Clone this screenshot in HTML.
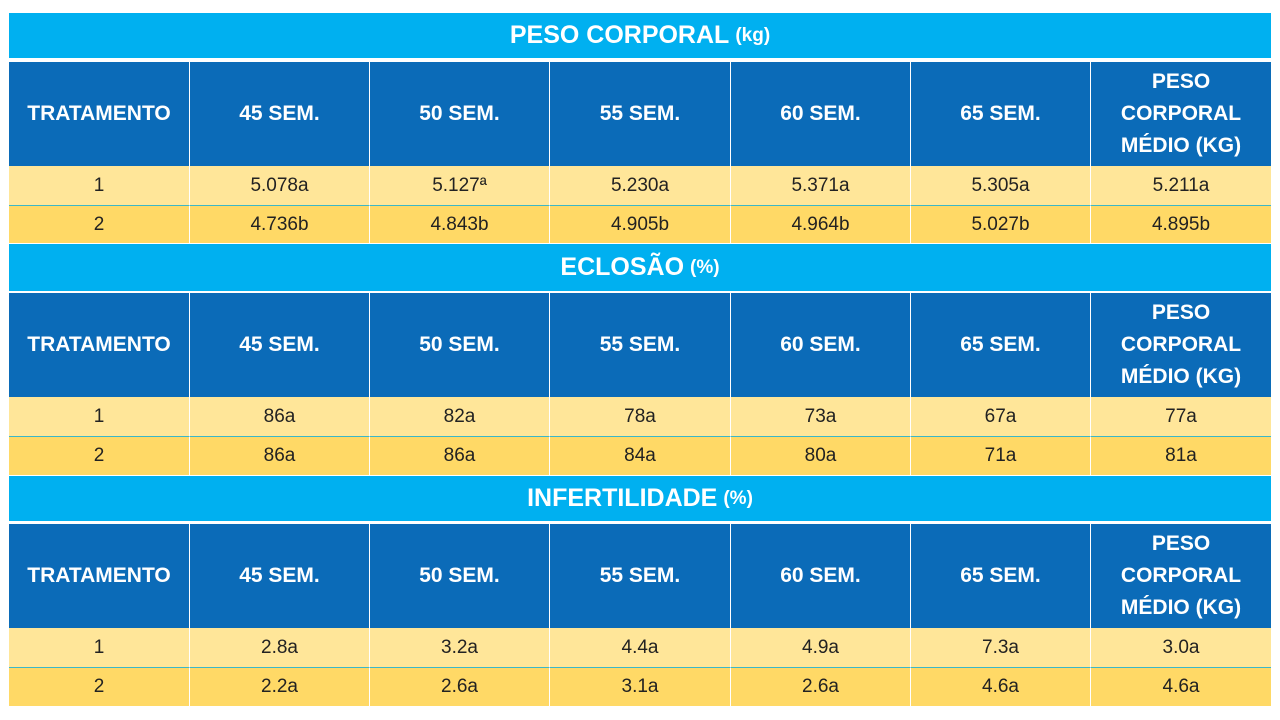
<!DOCTYPE html>
<html><head><meta charset="utf-8"><style>
body{margin:0;width:1280px;height:720px;background:#fff;position:relative;overflow:hidden;font-family:"Liberation Sans",sans-serif}
.c{position:absolute;display:flex;align-items:center;justify-content:center;text-align:center;box-sizing:border-box}
.t{background:#00B0F0;color:#fff;font-weight:bold;font-size:25px}
.t small{font-size:19px;margin-left:6px}
.h{background:#0B6BB8;color:#fff;font-weight:bold;font-size:21px;line-height:32px;border-left:1px solid #fff}
.r1{background:#FFE699;color:#222;font-size:19px;border-left:1px solid #fff}
.r2{background:#FFD966;color:#222;font-size:19px;border-left:1px solid #fff;border-top:1px solid #3CB7C8}
.first{border-left:none}
</style></head><body>
<div id="root"></div>
<script>
const colX=[9,189,369,549,730,910,1090,1271];
const headers=["TRATAMENTO","45 SEM.","50 SEM.","55 SEM.","60 SEM.","65 SEM.","PESO<br>CORPORAL<br>MÉDIO (KG)"];
const sections=[
 {title:"PESO CORPORAL",unit:"(kg)",y:[13,58,62,166,205,243],rows:[["1","5.078a","5.127ª","5.230a","5.371a","5.305a","5.211a"],["2","4.736b","4.843b","4.905b","4.964b","5.027b","4.895b"]]},
 {title:"ECLOSÃO",unit:"(%)",y:[244,291,293,397,436,475],rows:[["1","86a","82a","78a","73a","67a","77a"],["2","86a","86a","84a","80a","71a","81a"]]},
 {title:"INFERTILIDADE",unit:"(%)",y:[476,521,524,628,667,706],rows:[["1","2.8a","3.2a","4.4a","4.9a","7.3a","3.0a"],["2","2.2a","2.6a","3.1a","2.6a","4.6a","4.6a"]]}
];
const root=document.getElementById('root');
function cell(cls,x,y,w,h,html,name){
 const d=document.createElement('div');
 d.className='c '+cls;
 d.style.cssText=`left:${x}px;top:${y}px;width:${w}px;height:${h}px`;
 d.innerHTML=html;
 
 
 root.appendChild(d);
}
sections.forEach((s,si)=>{
 const y=s.y;
 cell('t',colX[0],y[0],colX[7]-colX[0],y[1]-y[0],s.title+'<small>'+s.unit+'</small>','section-title-'+(si+1));
 for(let i=0;i<7;i++){
  cell('h'+(i===0?' first':''),colX[i],y[2],colX[i+1]-colX[i],y[3]-y[2],headers[i],'header-cell-'+(si+1)+'-'+i);
 }
 s.rows.forEach((r,ri)=>{
  for(let i=0;i<7;i++){
   const top=ri===0?y[3]:y[4];const bot=ri===0?y[4]:y[5];
   cell((ri===0?'r1':'r2')+(i===0?' first':''),colX[i],top,colX[i+1]-colX[i],bot-top,r[i],'data-cell-'+(si+1)+'-'+(ri+1)+'-'+i);
  }
 });
});
</script>
</body></html>
